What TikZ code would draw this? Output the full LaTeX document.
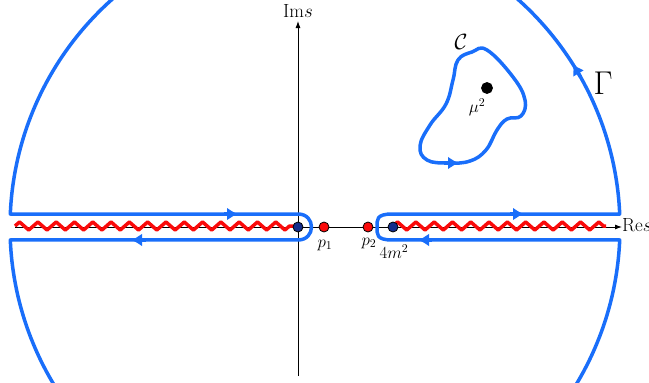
\RequirePackage{fix-cm}
\documentclass[tikz,border=0pt]{standalone}
\usetikzlibrary{arrows.meta,decorations.pathmorphing}
\definecolor{cblue}{RGB}{25,110,250}
\definecolor{cred}{RGB}{250,10,10}
\definecolor{cnavy}{RGB}{20,45,140}
\begin{document}
\begin{tikzpicture}[x=1pt,y=-1pt,
 contour/.style={draw=cblue,line width=3.5pt,line join=round},
 arr/.style={cblue,line width=3.5pt,-{Latex[length=11pt,width=13pt]}},
 cut/.style={draw=cred,line width=3.5pt,line join=round,decorate,decoration={zigzag,segment length=18.3pt,amplitude=4pt}},
 axis/.style={draw=black,line width=0.9pt,-{Latex[length=7pt,width=5pt]}},
 dot/.style={circle,draw=black,line width=0.8pt,inner sep=0pt,minimum size=10pt},
 lab/.style={font=\fontsize{17}{19}\selectfont, inner sep=0pt},
 big/.style={font=\fontsize{19}{21}\selectfont, inner sep=0pt}
]
\useasboundingbox (0,0) rectangle (649,383);
\clip (0,0) rectangle (649,383);
% axes
\coordinate (xs) at (15,227);
\coordinate (xe) at (622,227);
\coordinate (ys) at (298,376);
\coordinate (ye) at (298,21);
\draw[axis] (xs) -- (xe);
\draw[axis] (ys) -- (ye);
\node[big] (ims) at (298,11) {Im$s$};
\node[big,anchor=west] (res) at (622,225) {Re$s$};
% branch cuts
\coordinate (c1a) at (15,226);
\coordinate (c1b) at (297,226);
\coordinate (c2a) at (393,226);
\coordinate (c2b) at (606,226);
\draw[cut] (c1a) -- (c1b);
\draw[cut] (c2a) -- (c2b);
% keyhole contour with big circle
\pgfmathsetmacro{\hu}{227-305*sin(2.44)}
\pgfmathsetmacro{\hd}{227+305*sin(2.44)}
\draw[contour]
  plot[domain=-2.44:-177.56,samples=150] ({315+305*cos(\x)},{227+305*sin(\x)})
  -- (298,\hu) .. controls (316,\hu) and (316,\hd) .. (298,\hd)
  -- plot[domain=177.56:2.44,samples=150] ({315+305*cos(\x)},{227+305*sin(\x)})
  -- (392,\hd) .. controls (376,\hd) and (377,234) .. (377,227)
  .. controls (377,220) and (376,\hu) .. (392,\hu) -- cycle;
% arrows on contour
\coordinate (a1s) at (224,\hu); \coordinate (a1e) at (238,\hu);
\coordinate (a2s) at (146,\hd); \coordinate (a2e) at (131,\hd);
\coordinate (a3s) at (510,\hu); \coordinate (a3e) at (524,\hu);
\coordinate (a4s) at (432,\hd); \coordinate (a4e) at (418,\hd);
\coordinate (a5s) at ({315+305*cos(-29.5)},{227+305*sin(-29.5)});
\coordinate (a5e) at ({315+305*cos(-32.3)},{227+305*sin(-32.3)});
\draw[arr] (a1s) -- (a1e);
\draw[arr] (a2s) -- (a2e);
\draw[arr] (a3s) -- (a3e);
\draw[arr] (a4s) -- (a4e);
\draw[arr] (a5s) -- (a5e);
\node[font=\fontsize{33}{36}\selectfont,inner sep=0pt] (gam) at (603,83) {$\Gamma$};
% contour C
\draw[contour] plot[smooth cycle, tension=0.7] coordinates {
 (487,50) (513,77) (525,100) (521,116) (507,119)
 (497,130) (486,150) (470,161) (448,163) (427,160) (420,146)
 (430,125) (446,104) (453,80) (458,60) (472,52)};
\coordinate (a6s) at (444,163); \coordinate (a6e) at (459,163);
\draw[arr] (a6s) -- (a6e);
\node[font=\fontsize{22}{24}\selectfont,inner sep=0pt] (cC) at (461,42) {$\mathcal{C}$};
\node[dot,fill=black,minimum size=11pt] (mu) at (487,88) {};
\node[lab] (lmu) at (477,107) {$\mu^2$};
% points on real axis
\node[dot,fill=cnavy] (o) at (298,227) {};
\node[dot,fill=cred] (p1) at (324,227) {};
\node[dot,fill=cred] (p2) at (368,227) {};
\node[dot,fill=cnavy] (fm) at (393,227) {};
\node[lab] (lp1) at (325,245) {$p_1$};
\node[lab] (lp2) at (369,243) {$p_2$};
\node[lab] (lfm) at (394,252) {$4m^2$};
\end{tikzpicture}
\end{document}
